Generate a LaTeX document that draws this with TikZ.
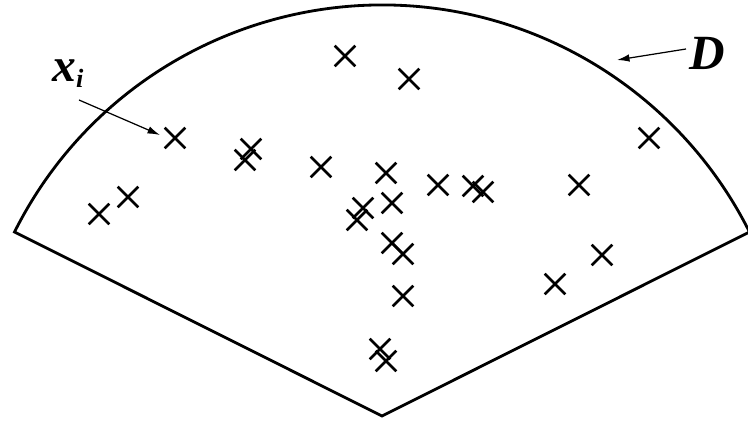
\documentclass[tikz,border=0pt]{standalone}
\usepackage{fontspec}
\setmainfont{Liberation Serif}
\usepackage{tikz}
\usetikzlibrary{arrows.meta,shapes.misc}
\tikzset{
  region/.style={line width=1.6pt, black},
  sample/.style={cross out, draw=black, line width=1.5pt, minimum size=0.36cm, inner sep=0pt},
  pointer/.style={-{Latex[length=2.5mm, width=1.5mm]}, line width=0.7pt},
  biglabel/.style={font=\bfseries\itshape\fontsize{27}{27}\selectfont, inner sep=0pt},
}

\begin{document}
\begin{tikzpicture}[x=0.02cm, y=-0.02cm]
\useasboundingbox (0,0) rectangle (748,422);
% sector
\coordinate (apex) at (382,416);
\draw[region, line join=miter] (apex) -- ++(-153.4:411) arc[start angle=-153.4, end angle=-26.6, radius=411] -- cycle;
% samples
\foreach \px/\py [count=\i] in {175/138, 128/197, 99/214, 251/149, 245/160, 345/56, 409/79,
    321/167, 386/173, 438/185, 473/186, 483/192, 392/203, 363/208, 357/220,
    392/243, 403/254, 403/296, 380/349, 386/361, 649/138, 579/185, 602/255, 555/284}
  \node[sample] (s\i) at (\px,\py) {};
% labels
\node[biglabel, anchor=base west] (xi) at (52,82) {x\raisebox{-3pt}{\fontsize{15}{15}\selectfont\bfseries\itshape i}};
\node[biglabel, font=\bfseries\itshape\fontsize{28}{28}\selectfont, anchor=base west] (dom) at (689,70) {D};
\coordinate (xi-tail) at (79,100);
\coordinate (xi-tip) at (160,135);
\coordinate (dom-tail) at (686,49);
\coordinate (dom-tip) at (617,60);
\draw[pointer] (xi-tail) -- (xi-tip);
\draw[pointer] (dom-tail) -- (dom-tip);
\end{tikzpicture}
\end{document}
